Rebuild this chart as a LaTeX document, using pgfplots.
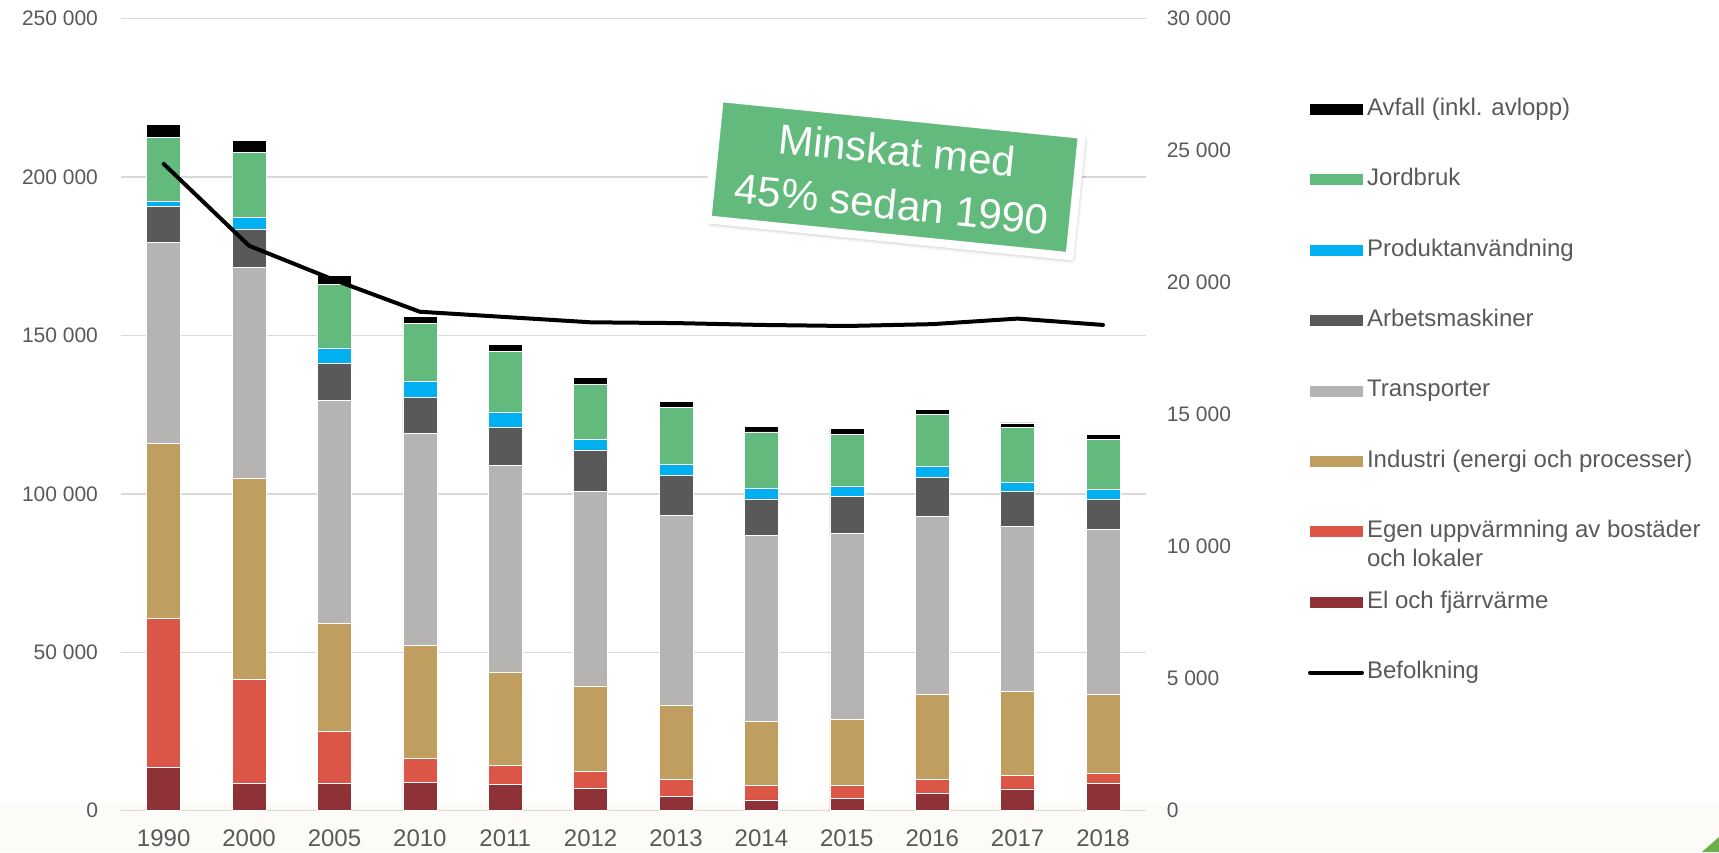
\documentclass[border=0pt]{standalone}
\usepackage{pgfplots}
\pgfplotsset{compat=1.18}
\usepackage{pgfplotstable}
\usepackage{fontspec}
\setmainfont{Liberation Sans}
\usetikzlibrary{shadows.blur}

\definecolor{cEl}{HTML}{8E3237}
\definecolor{cEgen}{HTML}{DB5646}
\definecolor{cInd}{HTML}{BF9E60}
\definecolor{cTra}{HTML}{B5B4B2}
\definecolor{cArb}{HTML}{595959}
\definecolor{cProd}{HTML}{00B0F0}
\definecolor{cJord}{HTML}{62BA7C}
\definecolor{labelgray}{HTML}{595959}
\definecolor{gridgray}{HTML}{D9D9D9}
\definecolor{stripbg}{HTML}{FCFBF8}
\definecolor{cornergreen}{HTML}{6AAF4A}

% emissions per sector (ton), population on the right axis
\pgfplotstableread{
x year el egen ind transp arb prod jord avfall pop
0 1990 13700 46900 55300 63600 11400 1400 20200 4100 24500
1 2000 8600 32800 63600 66600 11800 3800 20700 3600 21400
2 2005 8600 16400 34100 70400 11800 4800 20000 2900 20100
3 2010 8900 7500 35700 66900 11500 4900 18500 2100 18900
4 2011 8200 6000 29600 65300 12000 4800 19100 2100 18700
5 2012 7000 5500 26900 61300 13200 3400 17300 2200 18500
6 2013 4600 5300 23500 59800 12700 3300 18100 1900 18470
7 2014 3400 4500 20400 58600 11500 3500 17700 1800 18400
8 2015 3800 4300 20600 58900 11500 3200 16600 1700 18360
9 2016 5400 4400 26800 56200 12400 3400 16400 1600 18430
10 2017 6900 4300 26400 52200 10900 3100 17100 1500 18640
11 2018 8500 3200 25100 51900 9500 3100 16000 1500 18400
}\emis

\pgfplotsset{
  barleg/.style={legend image code/.code={\fill[#1] (0pt,-2.5pt) rectangle (26pt,2.5pt);}},
  linleg/.style={legend image code/.code={\draw[black, line width=2pt, line cap=round] (0pt,0pt) -- (26pt,0pt);}},
  base/.style={
    at={(0,0)}, anchor=south west, scale only axis,
    width=512.35pt, height=396pt,
    xmin=-0.5, xmax=11.5,
    axis line style={draw=none}, tick style={draw=none},
    major tick length=0pt,
    tick label style={font=\fontsize{10.5}{12}\selectfont, text=labelgray},
    /pgf/number format/assume math mode=true,
    scaled y ticks=false,
  },
}

\begin{document}
\begin{tikzpicture}[x=1pt,y=1pt]
\useasboundingbox (-60.5,-20.65) rectangle (799,405.35);
\fill[stripbg] (-60.5,-20.65) rectangle (799,3.85);
\fill[cornergreen] (790.5,-20.65) -- (799,-20.65) -- (799,-13.15) -- cycle;

\begin{axis}[base,
  ybar stacked, bar width=17pt,
  ymin=0, ymax=250000,
  ytick={0,50000,100000,150000,200000,250000},
  yticklabels={0,50 000,100 000,150 000,200 000,250 000},
  xtick={0,...,11},
  xticklabels={1990,2000,2005,2010,2011,2012,2013,2014,2015,2016,2017,2018},
  ymajorgrids, grid style={gridgray, line width=0.75pt},
  yticklabel style={xshift=-8pt},
  xticklabel style={yshift=-6pt, font=\fontsize{12}{14}\selectfont},
  every axis plot/.append style={draw=white, line width=0.3pt},
]
\addplot[fill=cEl] table[x=x,y=el]{\emis};
\addplot[fill=cEgen] table[x=x,y=egen]{\emis};
\addplot[fill=cInd] table[x=x,y=ind]{\emis};
\addplot[fill=cTra] table[x=x,y=transp]{\emis};
\addplot[fill=cArb] table[x=x,y=arb]{\emis};
\addplot[fill=cProd] table[x=x,y=prod]{\emis};
\addplot[fill=cJord] table[x=x,y=jord]{\emis};
\addplot[fill=black] table[x=x,y=avfall]{\emis};
\end{axis}

\begin{axis}[base,
  ymin=0, ymax=30000,
  axis y line*=right, hide x axis,
  ytick={0,5000,10000,15000,20000,25000,30000},
  yticklabels={0,5 000,10 000,15 000,20 000,25 000,30 000},
  yticklabel style={anchor=west, xshift=7pt},
  legend cell align=left,
  legend style={at={(1.158,0.900)}, anchor=north west, draw=none, fill=none,
    font=\fontsize{12}{14}\selectfont, text=labelgray,
    row sep=24.2pt, column sep=1.5pt, inner sep=0pt,
    nodes={inner sep=0pt, text height=8.5pt, text depth=2.5pt, text=labelgray}},
]
\addlegendimage{barleg=black}\addlegendentry{Avfall (inkl. avlopp)}
\addlegendimage{barleg=cJord}\addlegendentry{Jordbruk}
\addlegendimage{barleg=cProd}\addlegendentry{Produktanvändning}
\addlegendimage{barleg=cArb}\addlegendentry{Arbetsmaskiner}
\addlegendimage{barleg=cTra}\addlegendentry{Transporter}
\addlegendimage{barleg=cInd}\addlegendentry{Industri (energi och processer)}
\addlegendimage{barleg=cEgen}\addlegendentry{\smash{\begin{tabular}[t]{@{}l@{}}Egen uppvärmning av bostäder\\[0.5pt]och lokaler\end{tabular}}}
\addlegendimage{barleg=cEl}\addlegendentry{El och fjärrvärme}
\addplot[black, line width=2pt, line join=round, line cap=round, mark=none, linleg] table[x=x,y=pop]{\emis};
\addlegendentry{Befolkning}

\node[rotate=-5.8, fill=cJord, draw=white, line width=4pt,
  blur shadow={shadow xshift=1.2pt, shadow yshift=-1.8pt, shadow opacity=35, shadow blur steps=6, shadow blur extra rounding=1pt},
  minimum width=182pt, minimum height=61pt, inner sep=0pt,
  align=center, text=white, font=\fontsize{21}{27}\selectfont]
  at (axis cs:8.56,24000) {Minskat med\\45\% sedan 1990};
\end{axis}
\end{tikzpicture}
\end{document}
